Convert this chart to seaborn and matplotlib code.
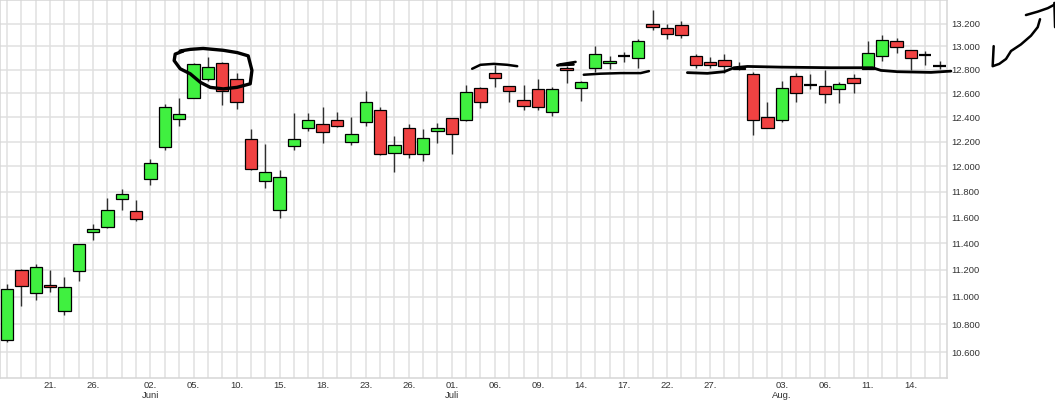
import matplotlib
matplotlib.use("Agg")
import matplotlib.pyplot as plt
import seaborn as sns
import numpy as np
from matplotlib.ticker import FixedLocator, FuncFormatter, NullLocator

# ---- data (trading-day index 0..65, 18 May - 18 Aug) ----
opens = [10683, 11200, 11028, 11088, 10898, 11188, 11484, 11523, 11744, 11648,
         11896, 12152, 12384, 12561, 12723, 12858, 12723, 12224, 11880, 11656,
         12168, 12312, 12344, 12376, 12200, 12360, 12459, 12104, 12312, 12096,
         12288, 12392, 12376, 12646, 12774, 12663, 12544, 12637, 12442, 12814,
         12646, 12817, 12858, 12919, 12900, 13200, 13164, 13191, 12919, 12867,
         12883, 12815, 12766, 12400, 12378, 12746, 12666, 12660, 12640, 12731,
         12808, 12917, 13045, 12967, 12925, 12836]
highs = [11090, 11205, 11246, 11195, 11143, 11395, 11543, 11747, 11819, 11731,
         12059, 12513, 12563, 12861, 12911, 12870, 12769, 12307, 12179, 11971,
         12437, 12437, 12487, 12445, 12400, 12623, 12487, 12243, 12344, 12299,
         12352, 12395, 12666, 12657, 12840, 12665, 12674, 12717, 12657, 12835,
         12700, 13003, 12919, 12953, 13064, 13321, 13200, 13224, 12939, 12911,
         12939, 12869, 12777, 12530, 12700, 12774, 12760, 12800, 12697, 12760,
         13048, 13103, 13076, 12970, 12961, 12878]
lows = [10674, 10931, 10976, 11033, 10869, 11115, 11425, 11514, 11653, 11568,
        11853, 12133, 12325, 12558, 12700, 12501, 12465, 11970, 11829, 11590,
        12133, 12285, 12189, 12317, 12176, 12325, 12090, 11957, 12064, 12045,
        12189, 12096, 12365, 12473, 12651, 12524, 12456, 12456, 12411, 12686,
        12533, 12780, 12803, 12864, 12814, 13145, 13064, 13070, 12814, 12814,
        12775, 12794, 12256, 12310, 12357, 12527, 12637, 12516, 12516, 12600,
        12805, 12878, 12947, 12794, 12844, 12803]
closes = [11057, 11075, 11221, 11068, 11072, 11392, 11508, 11656, 11784, 11585,
          12024, 12485, 12425, 12850, 12822, 12623, 12527, 11976, 11952, 11912,
          12224, 12376, 12280, 12328, 12264, 12527, 12096, 12176, 12096, 12232,
          12312, 12264, 12611, 12527, 12731, 12623, 12493, 12485, 12637, 12800,
          12697, 12933, 12875, 12919, 13045, 13173, 13109, 13100, 12844, 12844,
          12833, 12810, 12378, 12315, 12646, 12606, 12666, 12594, 12680, 12691,
          12942, 13055, 12994, 12900, 12925, 12836]

tick_pos = [3, 6, 10, 13, 16, 19, 22, 25, 28, 31, 34, 37, 40, 43, 46, 49, 54, 57, 60, 63]
tick_labels = ["21.", "26.", "02.\nJuni", "05.", "10.", "15.", "18.", "23.", "26.",
               "01.\nJuli", "06.", "09.", "14.", "17.", "22.", "27.", "03.\nAug.",
               "06.", "11.", "14."]
y_ticks = [10600, 10800, 11000, 11200, 11400, 11600, 11800, 12000, 12200,
           12400, 12600, 12800, 13000, 13200]

# hand-drawn marks (day index, price level)
loop_x = [12.07, 12.77, 13.67, 15.07, 16.05, 16.81, 17.07, 16.95, 16.03, 15.07,
          14.16, 13.47, 12.77, 12.07, 11.65, 11.72, 12.28]
loop_y = [12961, 12975, 12983, 12967, 12947, 12919, 12794, 12680, 12650, 12637,
          12650, 12693, 12765, 12808, 12878, 12934, 12961]
arc_x = [32.42, 33.0, 33.93, 34.86, 35.56]
arc_y = [12808, 12842, 12850, 12842, 12830]
tick_mark_x = [39.63, 38.58, 38.35, 39.49]
tick_mark_y = [12867, 12846, 12838, 12844]
under_x = [40.2, 41.37, 42.77, 44.16, 44.74]
under_y = [12757, 12766, 12771, 12771, 12788]
level_x = [47.42, 48.82, 49.98, 50.67, 51.61, 53.93, 57.42, 59.63, 60.33, 60.91,
           62.07, 64.4, 65.79]
level_y = [12775, 12769, 12783, 12817, 12828, 12822, 12817, 12817, 12817, 12794,
           12783, 12777, 12788]
arrow1_x = [68.77, 68.70, 69.16, 69.63, 69.98, 70.67, 71.37, 71.84, 72.0]
arrow1_y = [13003, 12830, 12850, 12892, 12961, 13018, 13094, 13169, 13239]
arrow2_x = [71.02, 71.84, 72.54, 73.0]
arrow2_y = [13276, 13306, 13337, 13368]
arrow3_x = [73.0, 73.05]
arrow3_y = [13384, 13169]

# ---- style ----
sns.set_style("whitegrid")
plt.rcParams["font.family"] = ["Liberation Sans", "DejaVu Sans"]

GREEN = "#40F040"
RED = "#F04242"

fig = plt.figure(figsize=(10.55, 4.12), dpi=100)
ax = fig.add_axes([0.0, 0.0825, 0.8974, 0.9175])

x = np.arange(len(opens))
o = np.array(opens, float)
c = np.array(closes, float)
h = np.array(highs, float)
l = np.array(lows, float)

ax.set_yscale("log")

ax.vlines(x, l, h, color="#303030", lw=1.0, zorder=2)
body_mask = o != c
cols = np.where(c > o, GREEN, RED)
ax.bar(x[body_mask], np.abs(c - o)[body_mask], bottom=np.minimum(o, c)[body_mask],
       width=0.86, color=cols[body_mask], edgecolor="black", linewidth=0.9, zorder=3)
flat = ~body_mask
ax.hlines(o[flat], x[flat] - 0.43, x[flat] + 0.43, color="black", lw=1.6, zorder=3)

# annotations
ann = dict(color="black", solid_capstyle="round", solid_joinstyle="round",
           clip_on=False, zorder=5)
ax.plot(loop_x, loop_y, lw=2.4, **ann)
ax.plot(arc_x, arc_y, lw=1.8, **ann)
ax.plot(tick_mark_x, tick_mark_y, lw=1.8, **ann)
ax.plot(under_x, under_y, lw=1.8, **ann)
ax.plot(level_x, level_y, lw=2.0, **ann)
ax.plot(arrow1_x, arrow1_y, lw=1.8, **ann)
ax.plot(arrow2_x, arrow2_y, lw=1.8, **ann)
ax.plot(arrow3_x, arrow3_y, lw=1.8, **ann)

ax.set_xlim(-0.49, 65.5)
ax.set_ylim(10418, 13410)

ax.yaxis.set_major_locator(FixedLocator(y_ticks))
ax.yaxis.set_minor_locator(NullLocator())
ax.yaxis.set_major_formatter(FuncFormatter(lambda v, _: f"{int(round(v)):,}".replace(",", ".")))
ax.yaxis.tick_right()

ax.set_xticks(tick_pos)
ax.set_xticklabels(tick_labels)
ax.set_xticks(x, minor=True)

ax.tick_params(axis="both", which="both", length=0, labelsize=6.8, labelcolor="#333333")
ax.tick_params(axis="y", pad=3)
ax.tick_params(axis="x", pad=2.5)
for t in ax.get_xticklabels():
    t.set_linespacing(1.05)

ax.grid(True, which="both", axis="x", color="#e0e0e0", lw=1.1)
ax.grid(True, which="major", axis="y", color="#e0e0e0", lw=1.1)
ax.set_axisbelow(True)
for s in ax.spines.values():
    s.set_color("#d6d6d6")
    s.set_linewidth(1.1)

fig.savefig("out.png", dpi=100)
